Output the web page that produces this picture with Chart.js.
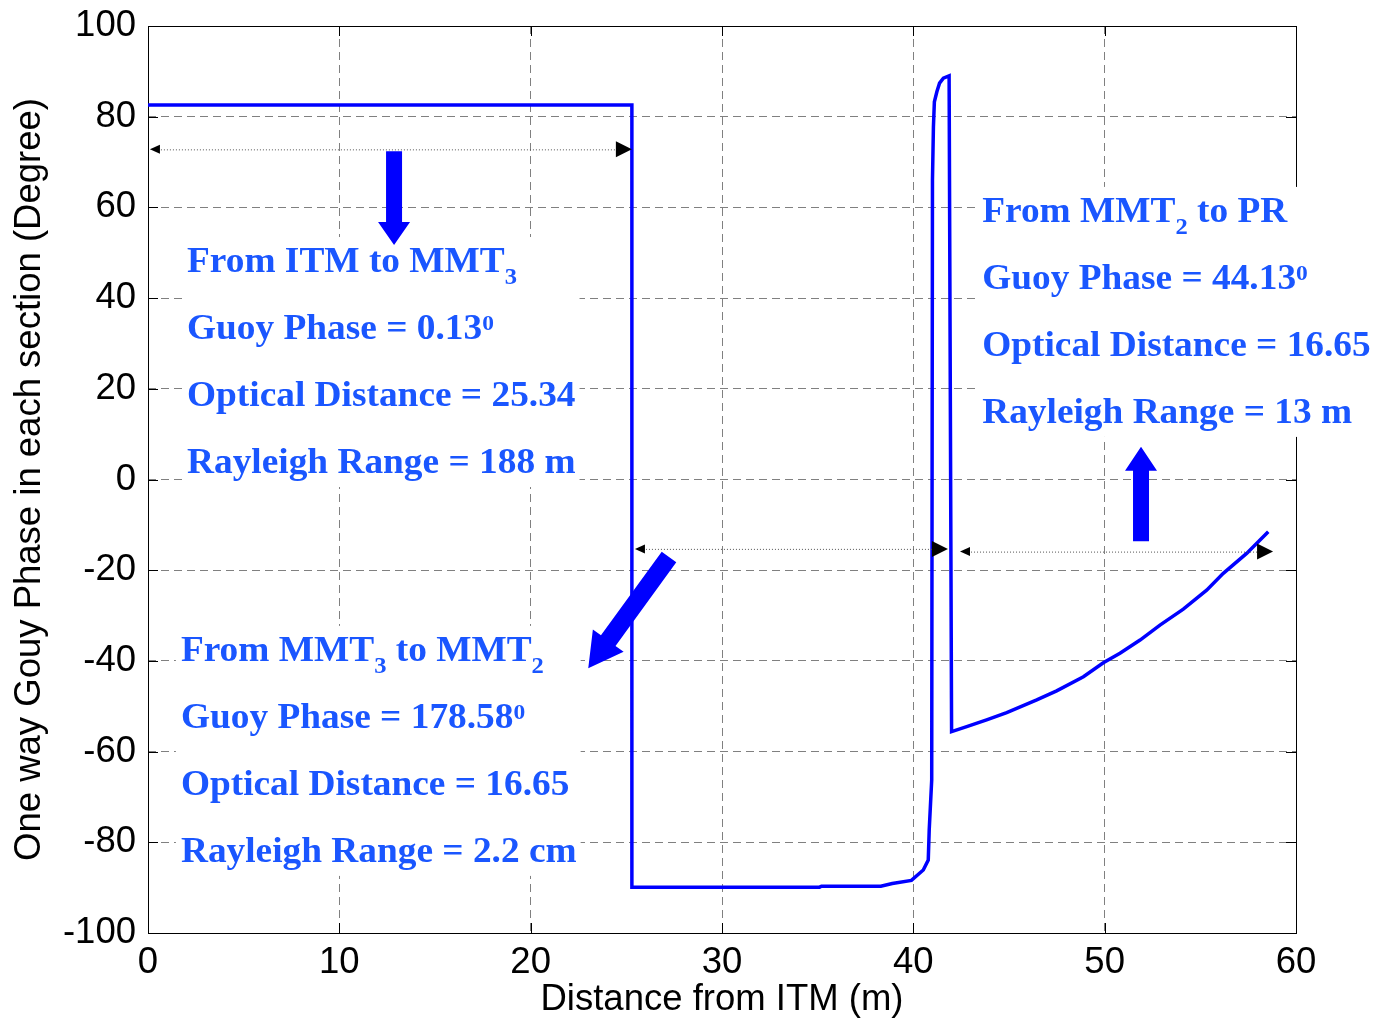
<!DOCTYPE html>
<html><head><meta charset="utf-8">
<script src="https://cdn.jsdelivr.net/npm/chart.js@4.4.1/dist/chart.umd.min.js"></script>
<style>html,body{margin:0;padding:0;background:#fff;} canvas{display:block;}</style>
</head><body>
<canvas id="c" width="1374" height="1024" style="width:1374px;height:1024px"></canvas>
<script>
// ---- data ----
const distance = [0, 25.29, 25.29, 35.1, 35.2, 38.3, 38.9, 39.9, 40.52, 40.78, 40.83, 40.96, 41.0, 41.05, 41.1, 41.23, 41.37, 41.57, 41.87, 41.9, 42.0, 42.79, 43.83, 44.88, 46.45, 47.49, 48.89, 49.93, 50.80, 51.85, 52.89, 54.11, 55.33, 56.20, 57.42, 58.55];
const phase    = [82.6, 82.6, -89.9, -89.9, -89.7, -89.7, -89.1, -88.4, -86.1, -83.9, -77.3, -66.3, 66.0, 77.8, 83.3, 85.5, 87.4, 88.5, 89.0, 89.0, -55.6, -54.5, -53.0, -51.4, -48.6, -46.6, -43.5, -40.4, -38.3, -35.4, -32.1, -28.6, -24.4, -20.7, -16.3, -11.5];
const xTickValues = [0, 10, 20, 30, 40, 50, 60];
const yTickValues = [-100, -80, -60, -40, -20, 0, 20, 40, 60, 80, 100];
const xTitle = 'Distance from ITM (m)';
const yTitle = 'One way Gouy Phase in each section (Degree)';
const block1Lines = ['From ITM to MMT_{3}', 'Guoy Phase = 0.13^{0}', 'Optical Distance = 25.34', 'Rayleigh Range = 188 m'];
const block2Lines = ['From MMT_{3} to MMT_{2}', 'Guoy Phase = 178.58^{0}', 'Optical Distance = 16.65', 'Rayleigh Range = 2.2 cm'];
const block3Lines = ['From MMT_{2} to PR', 'Guoy Phase = 44.13^{0}', 'Optical Distance = 16.65', 'Rayleigh Range = 13 m'];

// ---- styling ----
const AXFONT = '"Liberation Sans", Arial, sans-serif';
const AXSIZE = 36.5;
const TXFONT = '"Liberation Serif", "Times New Roman", serif';
const TXCOLOR = '#1a56ff';
const MAIN = 35, SMALL = 23, SUP = 22, SX = 1.067;

function parseRich(s) {
  const parts = s.split(/(_\{[^}]*\}|\^\{[^}]*\})/).filter(p => p.length);
  return parts.map(p => {
    if (p.startsWith('_{')) return {t: p.slice(2, -1), kind: 'sub'};
    if (p.startsWith('^{')) return {t: p.slice(2, -1), kind: 'sup'};
    return {t: p, kind: 'n'};
  });
}
function segFont(kind) {
  const size = kind === 'n' ? MAIN : (kind === 'sub' ? SMALL : SUP);
  return 'bold ' + size + 'px ' + TXFONT;
}
function richWidth(ctx, s) {
  let w = 0;
  for (const seg of parseRich(s)) { ctx.font = segFont(seg.kind); w += ctx.measureText(seg.t).width; }
  return w * SX;
}
function drawRich(ctx, s, x, y) {
  ctx.save();
  ctx.translate(x, y);
  ctx.scale(SX, 1);
  ctx.textBaseline = 'alphabetic';
  ctx.textAlign = 'left';
  let cx = 0;
  for (const seg of parseRich(s)) {
    ctx.font = segFont(seg.kind);
    const dy = seg.kind === 'sub' ? 12 : (seg.kind === 'sup' ? -9 : 0);
    ctx.fillText(seg.t, cx, dy);
    cx += ctx.measureText(seg.t).width;
  }
  ctx.restore();
}
function drawBlock(ctx, lines, x, y0, step) {
  ctx.save();
  let maxW = 0;
  for (const l of lines) maxW = Math.max(maxW, richWidth(ctx, l));
  const yLast = y0 + step * (lines.length - 1);
  ctx.fillStyle = '#fff';
  ctx.fillRect(x - 5, y0 - 35, maxW + 9, yLast + 14 - (y0 - 35));
  ctx.fillStyle = TXCOLOR;
  lines.forEach((l, i) => drawRich(ctx, l, x, y0 + i * step));
  ctx.restore();
}
function blockArrow(ctx, x0, y0, x1, y1, shaftW, headW, headL, color) {
  const dx = x1 - x0, dy = y1 - y0, L = Math.hypot(dx, dy);
  const ux = dx / L, uy = dy / L, nx = -uy, ny = ux;
  const bx = x1 - ux * headL, by = y1 - uy * headL;
  ctx.save();
  ctx.fillStyle = color;
  ctx.beginPath();
  ctx.moveTo(x0 + nx * shaftW / 2, y0 + ny * shaftW / 2);
  ctx.lineTo(bx + nx * shaftW / 2, by + ny * shaftW / 2);
  ctx.lineTo(bx + nx * headW / 2, by + ny * headW / 2);
  ctx.lineTo(x1, y1);
  ctx.lineTo(bx - nx * headW / 2, by - ny * headW / 2);
  ctx.lineTo(bx - nx * shaftW / 2, by - ny * shaftW / 2);
  ctx.lineTo(x0 - nx * shaftW / 2, y0 - ny * shaftW / 2);
  ctx.closePath();
  ctx.fill();
  ctx.restore();
}
function dimArrow(ctx, xl, xr, y) {
  ctx.save();
  ctx.strokeStyle = '#555';
  ctx.lineWidth = 1;
  ctx.setLineDash([1, 2]);
  ctx.beginPath();
  ctx.moveTo(xl + 8, y + 0.5);
  ctx.lineTo(xr - 14, y + 0.5);
  ctx.stroke();
  ctx.setLineDash([]);
  ctx.fillStyle = '#000';
  ctx.beginPath();
  ctx.moveTo(xl, y); ctx.lineTo(xl + 10, y - 4.5); ctx.lineTo(xl + 10, y + 4.5); ctx.closePath(); ctx.fill();
  ctx.beginPath();
  ctx.moveTo(xr, y); ctx.lineTo(xr - 16, y - 8); ctx.lineTo(xr - 16, y + 8); ctx.closePath(); ctx.fill();
  ctx.restore();
}

const framePlugin = {
  id: 'frame',
  beforeDatasetsDraw(chart) {
    const {ctx, chartArea: a, scales: {x, y}} = chart;
    ctx.save();
    ctx.strokeStyle = '#000';
    ctx.lineWidth = 1;
    ctx.beginPath();
    for (const v of xTickValues) {
      const px = Math.round(x.getPixelForValue(v)) + 0.5;
      ctx.moveTo(px, a.bottom); ctx.lineTo(px, a.bottom - 10);
      ctx.moveTo(px, a.top); ctx.lineTo(px, a.top + 10);
    }
    for (const v of yTickValues) {
      const py = Math.round(y.getPixelForValue(v)) + 0.5;
      ctx.moveTo(a.left, py); ctx.lineTo(a.left + 10, py);
      ctx.moveTo(a.right, py); ctx.lineTo(a.right - 10, py);
    }
    ctx.stroke();
    ctx.strokeRect(Math.round(a.left) + 0.5, Math.round(a.top) + 0.5, Math.round(a.right - a.left), Math.round(a.bottom - a.top));
    ctx.restore();
  },
  afterDatasetsDraw(chart) {
    const {ctx, scales: {x, y}} = chart;
    const X = v => x.getPixelForValue(v), Y = v => y.getPixelForValue(v);
    // text blocks with white background
    drawBlock(ctx, block1Lines, X(2.04), Y(45.75), 67);
    drawBlock(ctx, block2Lines, X(1.72), Y(-40.0), 67);
    drawBlock(ctx, block3Lines, X(43.6), Y(56.8), 67);
    // dimension arrows
    dimArrow(ctx, X(0.1), X(25.29), Y(72.8));
    dimArrow(ctx, X(25.45), X(41.81), Y(-15.3));
    dimArrow(ctx, X(42.44), X(58.8), Y(-15.9));
    // block arrows
    blockArrow(ctx, X(12.86), Y(72.4), X(12.86), Y(51.7), 16, 32, 23, '#0000ff');
    blockArrow(ctx, X(51.9), Y(-13.6), X(51.9), Y(7.2), 16, 32, 24, '#0000ff');
    blockArrow(ctx, X(27.23), Y(-17.1), X(23.01), Y(-41.6), 18, 38, 34, '#0000ff');
  }
};

const pts = distance.map((d, i) => ({x: d, y: phase[i]}));
new Chart(document.getElementById('c'), {
  type: 'scatter',
  data: {datasets: [{data: pts, showLine: true, borderColor: '#0000ff', borderWidth: 3.5, pointRadius: 0, tension: 0, fill: false}]},
  options: {
    responsive: false, animation: false, devicePixelRatio: 1,
    layout: {padding: {top: 26, right: 78, left: 0, bottom: 0}},
    plugins: {legend: {display: false}, tooltip: {enabled: false}},
    scales: {
      x: {
        type: 'linear', min: 0, max: 60,
        afterBuildTicks: s => { s.ticks = xTickValues.map(v => ({value: v})); },
        afterFit: s => { s.height = 91; s.paddingLeft = 0; s.paddingRight = 0; },
        grid: {color: '#808080', lineWidth: 1, drawTicks: false},
        border: {display: false, dash: [8, 5]},
        ticks: {padding: 8, color: '#000', font: {family: AXFONT, size: AXSIZE}, maxRotation: 0, autoSkip: false},
        title: {display: true, text: xTitle, color: '#000', font: {family: AXFONT, size: AXSIZE}, padding: {top: 0, bottom: 2}}
      },
      y: {
        type: 'linear', min: -100, max: 100,
        afterBuildTicks: s => { s.ticks = yTickValues.map(v => ({value: v})); },
        afterFit: s => { s.width = 148; s.paddingTop = 0; s.paddingBottom = 0; },
        grid: {color: '#808080', lineWidth: 1, drawTicks: false},
        border: {display: false, dash: [8, 5]},
        ticks: {padding: 12, color: '#000', font: {family: AXFONT, size: AXSIZE}, autoSkip: false},
        title: {display: true, text: yTitle, color: '#000', font: {family: AXFONT, size: AXSIZE}, padding: {top: 8, bottom: 0}}
      }
    }
  },
  plugins: [framePlugin]
});
</script>
</body></html>
